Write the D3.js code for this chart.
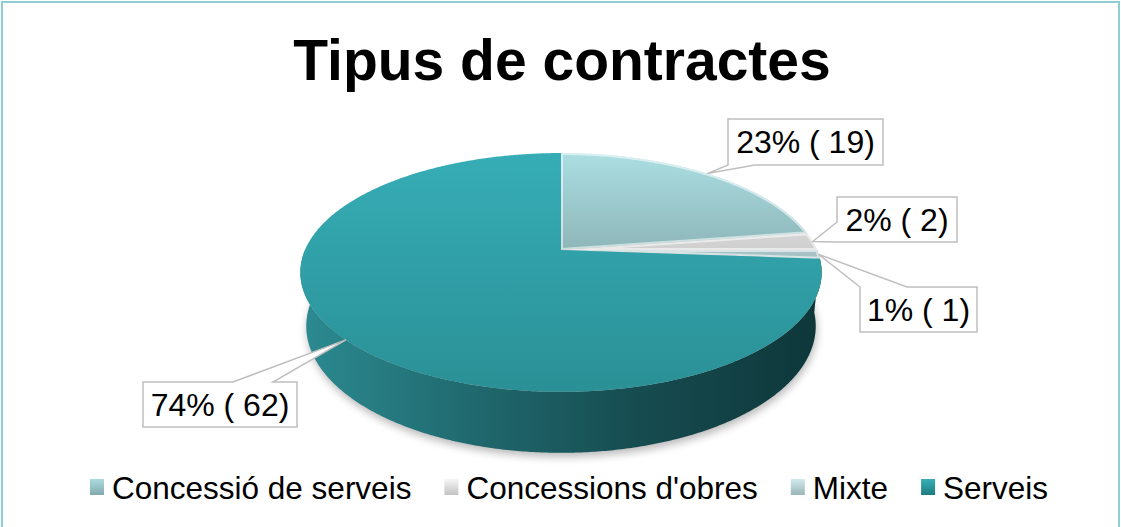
<!DOCTYPE html>
<html>
<head>
<meta charset="utf-8">
<script src="https://cdn.jsdelivr.net/npm/d3@7"></script>
<style>
  html, body { margin: 0; padding: 0; background: #fff; }
  svg { display: block; font-family: "Liberation Sans", Arial, sans-serif; }
</style>
</head>
<body>
<svg id="chart" width="1121" height="527"></svg>
<script>
// ---- data ----
const categories = ["Concessió de serveis", "Concessions d'obres", "Mixte", "Serveis"];
const values = [19, 2, 1, 62];
const chartTitle = "Tipus de contractes";

// ---- colours per category ----
const topLight = ["#abdee2", "#f5f5f5", "#d8edf0", "#36adb6"];
const topDark  = ["#8cb4b7", "#cdcdcd", "#a6c2c5", "#2a9096"];
const swatchLight = ["#aadbdf", "#f6f6f6", "#d3eaed", "#37afb8"];
const swatchDark  = ["#82aaad", "#c2c2c2", "#98b5b8", "#1f7b81"];
const bevelOpacity = [0.55, 0.55, 0.55, 0];

const W = 1121, H = 527;
const svg = d3.select("#chart");
const defs = svg.append("defs");

// outer frame
svg.append("rect")
  .attr("x", 2).attr("y", 2).attr("width", W - 4).attr("height", H + 20)
  .attr("fill", "#fff").attr("stroke", "#8ed0d1").attr("stroke-width", 2);

// title
svg.append("text")
  .attr("x", 562).attr("y", 80)
  .attr("text-anchor", "middle")
  .attr("font-size", 57).attr("font-weight", "bold").attr("fill", "#000")
  .text(chartTitle);

// ---- 3D pie projection ----
const cx = 561, cy = 250, R = 256;
const sinT = 0.45, cosT = Math.sqrt(1 - sinT * sinT);
const D = 1216, depth = 60.5;

function proj(theta, r, y) {
  const X = r * Math.cos(theta), Z = r * Math.sin(theta);
  const v = Z * sinT - y * cosT;
  const w = Z * cosT + y * sinT;
  const s = D / (D - w);
  return [cx + X * s, cy + v * s];
}
// pie angle (0 = 12 o'clock, clockwise) -> projection angle
const th = a => a - Math.PI / 2;

function arcPts(a0, a1, y) {
  const n = Math.max(2, Math.ceil((a1 - a0) / (Math.PI / 360)));
  const pts = [];
  for (let i = 0; i <= n; i++) pts.push(proj(th(a0 + (a1 - a0) * i / n), R, y));
  return pts;
}
const line = pts => "M" + pts.map(p => p[0].toFixed(2) + "," + p[1].toFixed(2)).join("L");

const total = d3.sum(values);
const arcs = d3.pie().sort(null).value(d => d)(values);

// gradients
function linGrad(id, x1, y1, x2, y2, stops) {
  const g = defs.append("linearGradient").attr("id", id)
    .attr("gradientUnits", "userSpaceOnUse")
    .attr("x1", x1).attr("y1", y1).attr("x2", x2).attr("y2", y2);
  stops.forEach(s => g.append("stop").attr("offset", s[0]).attr("stop-color", s[1]));
  return g;
}
const topY0 = proj(-Math.PI / 2, R, 0)[1], topY1 = proj(Math.PI / 2, R, 0)[1];
arcs.forEach((a, i) => {
  linGrad("top" + i, 0, topY0, 0, i === 3 ? topY1 : cy + 5,
    [[0, topLight[i]], [1, topDark[i]]]);
});
linGrad("side", cx - R, 0, cx + R, 0,
  [[0, "#2b8a90"], [0.35, "#1f676c"], [0.65, "#164c50"], [1, "#0e373a"]]);
linGrad("sideLight", cx - R, 0, cx + R, 0, [[0, "#9fbfc2"], [1, "#6d8d90"]]);
arcs.forEach((a, i) => {
  linGrad("sw" + i, 0, 0, 0, 1, [[0, swatchLight[i]], [1, swatchDark[i]]])
    .attr("gradientUnits", "objectBoundingBox");
});

// soft shadow under the pie
const blur = defs.append("filter").attr("id", "blur")
  .attr("x", "-20%").attr("y", "-20%").attr("width", "140%").attr("height", "140%");
blur.append("feGaussianBlur").attr("stdDeviation", 4);
svg.append("path")
  .attr("d", line(arcPts(0, 2 * Math.PI, -depth)) + "Z")
  .attr("transform", "translate(1,4)")
  .attr("fill", "#000").attr("opacity", 0.28).attr("filter", "url(#blur)");

const pieG = svg.append("g");

// outer walls (front half only)
arcs.forEach((a, i) => {
  const lo = Math.max(a.startAngle, Math.PI / 2);
  const hi = Math.min(a.endAngle, 3 * Math.PI / 2);
  if (hi <= lo) return;
  const topPts = arcPts(lo, hi, 0);
  const botPts = arcPts(lo, hi, -depth).reverse();
  pieG.append("path")
    .attr("d", line(topPts.concat(botPts)) + "Z")
    .attr("fill", i === 3 ? "url(#side)" : "url(#sideLight)");
});

// top faces
arcs.forEach((a, i) => {
  const c = proj(0, 0, 0);
  const d = "M" + c[0] + "," + c[1] + "L" + line(arcPts(a.startAngle, a.endAngle, 0)).slice(1) + "Z";
  pieG.append("path").attr("d", d).attr("fill", "url(#top" + i + ")");
  if (bevelOpacity[i] > 0) {
    // inner bevel highlight
    const clip = defs.append("clipPath").attr("id", "clip" + i);
    clip.append("path").attr("d", d);
    pieG.append("path").attr("d", d)
      .attr("fill", "none").attr("stroke", "#fff")
      .attr("stroke-opacity", bevelOpacity[i]).attr("stroke-width", 4)
      .attr("clip-path", "url(#clip" + i + ")");
  }
});

// ---- callout labels ----
const calloutBoxes = [
  { x: 728, y: 119, w: 155, h: 46, side: "bottom", b0: 728, b1: 755 },
  { x: 837, y: 197, w: 120, h: 45, side: "left",   b0: 222, b1: 242 },
  { x: 860, y: 287, w: 117, h: 45, side: "top",    b0: 860, b1: 907 },
  { x: 143, y: 382, w: 154, h: 45, side: "top",    b0: 233, b1: 273 }
];
function calloutPath(b, tip) {
  const x0 = b.x, y0 = b.y, x1 = b.x + b.w, y1 = b.y + b.h;
  const t = tip[0].toFixed(2) + "," + tip[1].toFixed(2);
  let d = "M" + x0 + "," + y0;
  if (b.side === "top") d += "L" + b.b0 + "," + y0 + "L" + t + "L" + b.b1 + "," + y0;
  d += "L" + x1 + "," + y0 + "L" + x1 + "," + y1;
  if (b.side === "bottom") d += "L" + b.b1 + "," + y1 + "L" + t + "L" + b.b0 + "," + y1;
  d += "L" + x0 + "," + y1;
  if (b.side === "left") d += "L" + x0 + "," + b.b1 + "L" + t + "L" + x0 + "," + b.b0;
  return d + "Z";
}
const labelG = svg.append("g");
arcs.forEach((a, i) => {
  const b = calloutBoxes[i];
  const tip = proj(th((a.startAngle + a.endAngle) / 2), R, 0);
  labelG.append("path")
    .attr("d", calloutPath(b, tip))
    .attr("fill", "#fff").attr("stroke", "#bfbfbf").attr("stroke-width", 1.5)
    .attr("stroke-linejoin", "miter");
  labelG.append("text")
    .attr("x", b.x + b.w / 2).attr("y", b.y + b.h / 2 + 11)
    .attr("text-anchor", "middle").attr("font-size", 32).attr("fill", "#000")
    .text(Math.round(values[i] / total * 100) + "% ( " + values[i] + ")");
});

// ---- legend ----
const legendG = svg.append("g");
const legendY = 488, swW = 14, swH = 16, swGap = 8, itemGap = 33;
let lx = 0;
categories.forEach((c, i) => {
  const g = legendG.append("g");
  g.append("rect").attr("x", 0).attr("y", legendY - swH / 2 - 1).attr("width", swW).attr("height", swH)
    .attr("fill", "url(#sw" + i + ")");
  const t = g.append("text").attr("x", swW + swGap).attr("y", legendY + 11)
    .attr("font-size", 31.5).attr("fill", "#000").text(c);
  const wItem = swW + swGap + t.node().getComputedTextLength();
  g.attr("transform", "translate(" + lx + ",0)");
  lx += wItem + itemGap;
});
legendG.attr("transform", "translate(90,0)");
</script>
</body>
</html>
